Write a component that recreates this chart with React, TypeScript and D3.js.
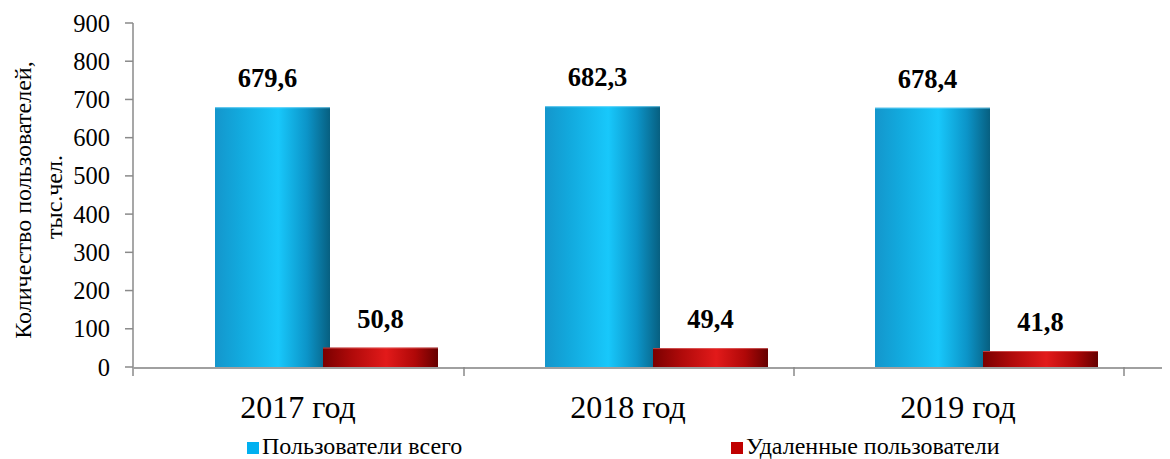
import React from "react";
import * as d3 from "d3";

const years = ["2017 год", "2018 год", "2019 год"];
const seriesNames = ["Пользователи всего", "Удаленные пользователи"];
const totalUsers = [679.6, 682.3, 678.4];
const removedUsers = [50.8, 49.4, 41.8];
const yTicks = [0, 100, 200, 300, 400, 500, 600, 700, 800, 900];

const width = 1170;
const height = 459;
const marginLeft = 134;
const plotRight = 1124;
const marginTop = 23;
const baseline = 367;

const fmt = (v: number) => v.toFixed(1).replace(".", ",");

export default function App() {
  const x = d3.scaleBand<string>().domain(years).range([marginLeft, plotRight]).padding(0);
  const x1 = d3.scaleBand<string>().domain(seriesNames).range([81, 297]).padding(0);
  const y = d3.scaleLinear().domain([0, 900]).range([baseline, marginTop]);
  const barW = x1.bandwidth() + 7;

  const data = years.flatMap((yr, i) => [
    { yr, s: seriesNames[0], v: totalUsers[i] },
    { yr, s: seriesNames[1], v: removedUsers[i] },
  ]);

  const serif = "'Liberation Serif', 'Times New Roman', serif";

  return (
    <div style={{ position: "absolute", left: 0, top: 0 }}>
      <svg width={width} height={height} style={{ display: "block", background: "#fff" }}>
        <defs>
          <linearGradient id="gBlue" x1="0" x2="1" y1="0" y2="0">
            <stop offset="0" stopColor="#1496cc" />
            <stop offset="0.2" stopColor="#12a8dc" />
            <stop offset="0.55" stopColor="#18c8fb" />
            <stop offset="0.8" stopColor="#0c94c8" />
            <stop offset="1" stopColor="#075f80" />
          </linearGradient>
          <linearGradient id="gRed" x1="0" x2="1" y1="0" y2="0">
            <stop offset="0" stopColor="#7a0000" />
            <stop offset="0.25" stopColor="#b00a0a" />
            <stop offset="0.55" stopColor="#e21a1a" />
            <stop offset="0.8" stopColor="#b00808" />
            <stop offset="1" stopColor="#650000" />
          </linearGradient>
        </defs>

        {/* y axis */}
        <line x1={marginLeft - 1} x2={marginLeft - 1} y1={marginTop} y2={baseline + 9} stroke="#8a8a8a" strokeWidth={1.5} />
        {yTicks.map((t) => (
          <g key={t} transform={`translate(0,${y(t)})`}>
            <line x1={marginLeft - 9} x2={marginLeft - 1} stroke="#8a8a8a" strokeWidth={1.5} />
            <text x={110} dy="0.35em" textAnchor="end" fontFamily={serif} fontSize={24.5} fill="#000">
              {t}
            </text>
          </g>
        ))}

        {/* x axis */}
        <line x1={marginLeft - 1} x2={1162} y1={baseline + 1} y2={baseline + 1} stroke="#a0a0a0" strokeWidth={2} />
        {years.map((yr) => (
          <line key={yr} x1={(x(yr) as number) + x.bandwidth()} x2={(x(yr) as number) + x.bandwidth()} y1={baseline} y2={baseline + 9} stroke="#8a8a8a" strokeWidth={1.5} />
        ))}
        {years.map((yr) => (
          <text key={yr} x={(x(yr) as number) + x.bandwidth() / 2 - 1} y={418} textAnchor="middle" fontFamily={serif} fontSize={32} fill="#000">
            {yr}
          </text>
        ))}

        {/* bars */}
        {data.map((d) => {
          const bx = (x(d.yr) as number) + (x1(d.s) as number);
          const by = y(d.v);
          const blue = d.s === seriesNames[0];
          return (
            <g key={d.yr + d.s}>
              <rect x={bx} y={by} width={barW} height={baseline - by} fill={blue ? "url(#gBlue)" : "url(#gRed)"} />
              <line x1={bx} x2={bx + barW} y1={by + 0.5} y2={by + 0.5} stroke={blue ? "#7fdcff" : "#e87070"} strokeOpacity={0.6} />
              <text x={bx + barW / 2 - (blue ? 5 : 0)} y={by - 20} textAnchor="middle" fontFamily={serif} fontWeight="bold" fontSize={26.5} fill="#000">
                {fmt(d.v)}
              </text>
            </g>
          );
        })}

        {/* y axis title */}
        <text transform="translate(31,200) rotate(-90)" textAnchor="middle" fontFamily={serif} fontSize={24} fill="#000">
          Количество пользователей,
        </text>
        <text transform="translate(62,197) rotate(-90)" textAnchor="middle" fontFamily={serif} fontSize={24} fill="#000">
          тыс.чел.
        </text>

        {/* legend */}
        {seriesNames.map((s, i) => {
          const lx = i === 0 ? 247 : 731;
          return (
            <g key={s} transform={`translate(${lx},442)`}>
              <rect width={12} height={12} fill={i === 0 ? "#00b0f0" : "#c00000"} />
              <text x={15} y={12} fontFamily={serif} fontSize={24} fill="#000">
                {s}
              </text>
            </g>
          );
        })}
      </svg>
    </div>
  );
}
